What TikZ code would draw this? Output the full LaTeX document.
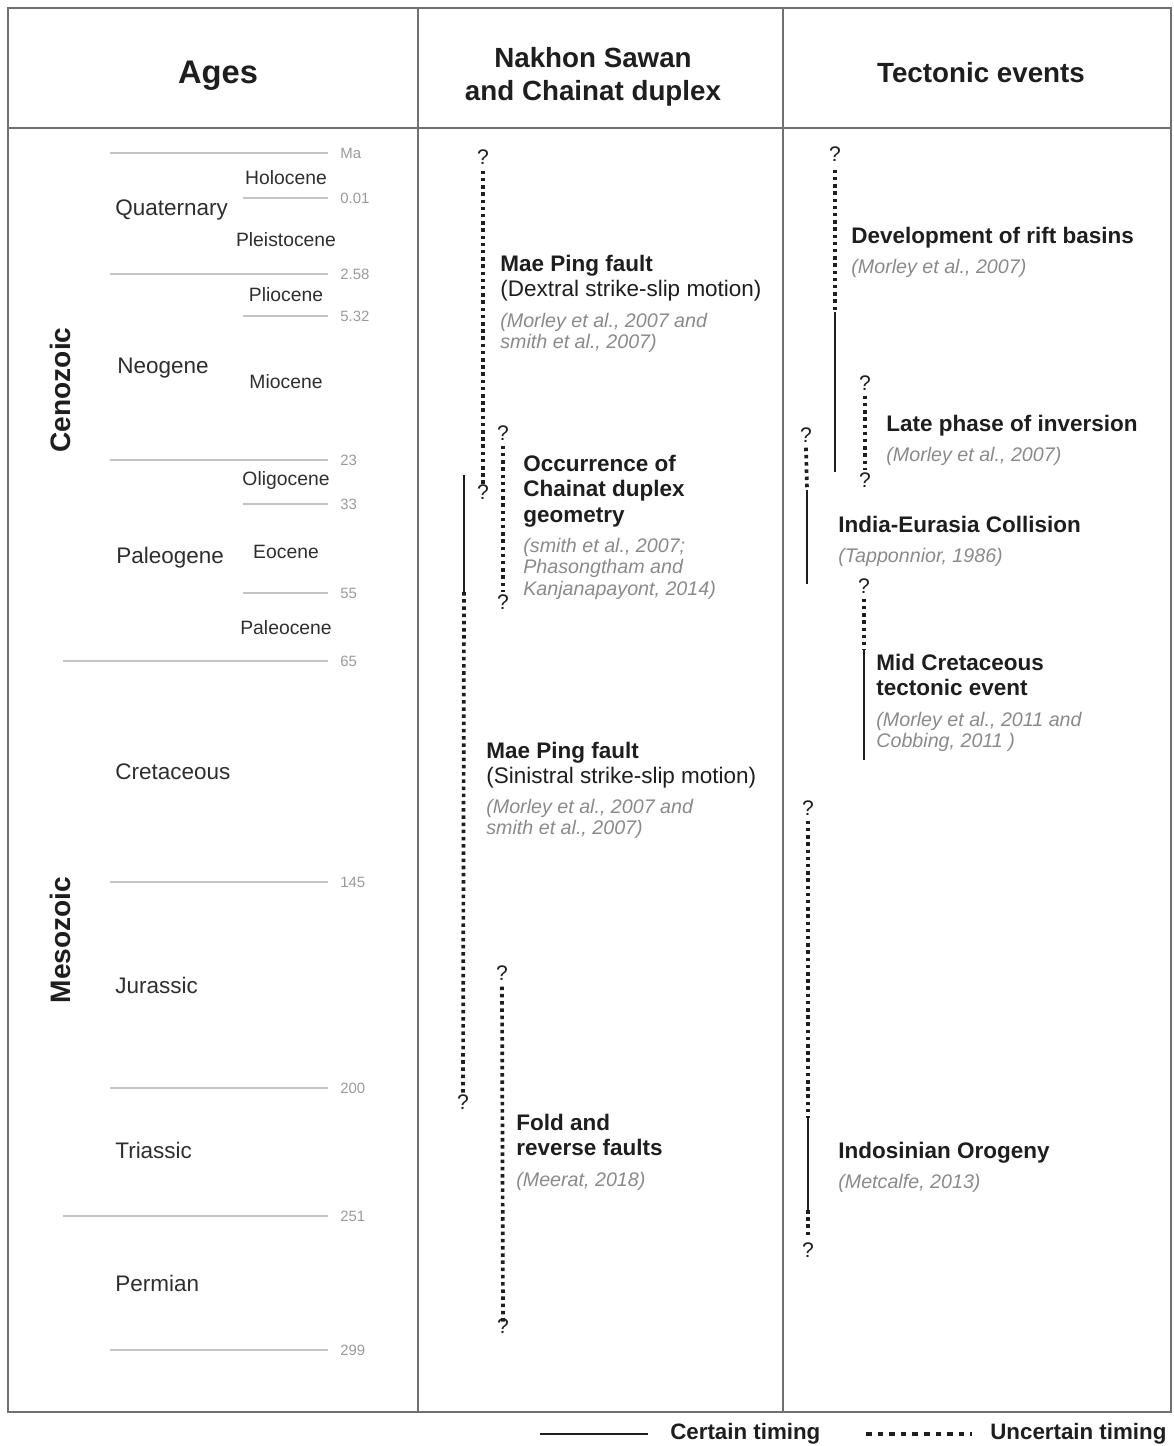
\documentclass[tikz,border=0pt]{standalone}
\usepackage{fontspec}
\setmainfont{Liberation Sans}
\usepackage{tikz}
\usetikzlibrary{positioning}

\definecolor{framegrey}{HTML}{707070}
\definecolor{linegrey}{HTML}{C4C4C4}
\definecolor{numgrey}{HTML}{9A9A9A}
\definecolor{txtgrey}{HTML}{2E2E2E}
\definecolor{citegrey}{HTML}{8A8A8A}
\definecolor{evtblack}{HTML}{1E1E1E}

\begin{document}
\begin{tikzpicture}[
    x=0.02cm, y=-0.02cm,
    frame/.style={draw=framegrey, line width=0.9pt},
    hdr/.style={font=\bfseries\fontsize{15.8}{18.8}\selectfont, align=center, text=evtblack},
    era/.style={font=\bfseries\fontsize{16}{19}\selectfont, rotate=90, text=evtblack},
    period/.style={font=\fontsize{12.8}{15}\selectfont, text=txtgrey, anchor=west, inner sep=0pt},
    epoch/.style={font=\fontsize{11}{13}\selectfont, text=txtgrey, inner sep=0pt},
    ma/.style={font=\fontsize{8.5}{10}\selectfont, text=numgrey, anchor=west, inner sep=0pt},
    ageline/.style={draw=linegrey, line width=0.8pt},
    event/.style={font=\fontsize{12.8}{14.5}\selectfont, text=evtblack, align=left, anchor=north west, inner sep=0pt},
    cite/.style={font=\itshape\fontsize{11.2}{12.3}\selectfont, text=citegrey, align=left, anchor=north west, inner sep=0pt},
    qmark/.style={font=\fontsize{12}{14}\selectfont, text=evtblack, inner sep=0pt},
    certain/.style={draw=evtblack, line width=1.6pt},
    uncertain/.style={draw=evtblack, line width=2.1pt, dash pattern=on 2pt off 2.1pt},
    legend/.style={font=\bfseries\fontsize{12.7}{15}\selectfont, text=evtblack, anchor=west, inner sep=0pt}
]
\useasboundingbox (0,0) rectangle (1173,1446);

% table frame
\draw[frame] (8,8) rectangle (1171,1412);
\draw[frame] (8,128) -- (1171,128);
\draw[frame] (418,8) -- (418,1412);
\draw[frame] (783,8) -- (783,1412);

% headers
\node[hdr, font=\bfseries\fontsize{18.6}{22}\selectfont] (hages) at (218,76) {Ages};
\node[hdr] (hduplex) at (593,77) {Nakhon Sawan\\and Chainat duplex};
\node[hdr] (htect) at (981,73) {Tectonic events};

% age boundaries
\foreach \xa/\yy/\lab/\nm in {110/153/Ma/ma, 243/198/0.01/a1, 110/274/2.58/a2, 243/316/5.32/a3,
    110/460/23/a4, 243/504/33/a5, 243/593/55/a6, 63/661/65/a7,
    110/882/145/a8, 110/1088/200/a9, 63/1216/251/a10, 110/1350/299/a11}
{
    \draw[ageline] (\xa,\yy) -- (328,\yy);
    \node[ma] (t\nm) at (340,\yy) {\lab};
}

% eras
\node[era] (ceno) at (60,390) {Cenozoic};
\node[era] (meso) at (60,940) {Mesozoic};

% periods
\node[period] (quat) at (115,210) {Quaternary};
\node[period] (neog) at (117,368) {Neogene};
\node[period] (paleog) at (116,558) {Paleogene};
\node[period] (cret) at (115,772) {Cretaceous};
\node[period] (jura) at (115,985) {Jurassic};
\node[period] (tria) at (115,1150) {Triassic};
\node[period] (perm) at (115,1283) {Permian};

% epochs
\node[epoch] (holo) at (286,178) {Holocene};
\node[epoch] (pleis) at (286,240) {Pleistocene};
\node[epoch] (plio) at (286,295) {Pliocene};
\node[epoch] (mio) at (286,382) {Miocene};
\node[epoch] (oligo) at (286,480) {Oligocene};
\node[epoch] (eoc) at (286,552) {Eocene};
\node[epoch] (paleoc) at (286,628) {Paleocene};

% Nakhon Sawan and Chainat duplex
\node[qmark] (qdx1) at (483,157) {?};
\node[qmark] (qdx2) at (483,492) {?};
\draw[uncertain] (qdx1.south) ++(0,6) -- ([yshift=-0.06cm]qdx2.north);

\coordinate (sn0) at (464,475);
\coordinate (sn1) at (464,592);
\node[qmark] (qsn) at (463,1102) {?};
\draw[certain] (sn0) -- (sn1);
\draw[uncertain] (sn1) -- (qsn.north);

\node[qmark] (qoc1) at (503,433) {?};
\node[qmark] (qoc2) at (503,602) {?};
\draw[uncertain] ([yshift=-0.1cm]qoc1.south) -- ([yshift=0.05cm]qoc2.north);

\node[qmark] (qfd1) at (502,973) {?};
\node[qmark] (qfd2) at (503,1326) {?};
\draw[uncertain] ([yshift=-0.12cm]qfd1.south) -- ([yshift=-0.12cm]qfd2.north);

\node[event] (mpdx) at (500,254.6) {\textbf{Mae Ping fault}\\(Dextral strike-slip motion)};
\node[cite] (cmpdx) at (500,312.7) {(Morley et al., 2007 and\\smith et al., 2007)};
\node[event] (occ) at (523,454.6) {\textbf{Occurrence of}\\\textbf{Chainat duplex}\\\textbf{geometry}};
\node[cite] (cocc) at (523,537.7) {(smith et al., 2007;\\Phasongtham and\\Kanjanapayont, 2014)};
\node[event] (mpsn) at (486,741.6) {\textbf{Mae Ping fault}\\(Sinistral strike-slip motion)};
\node[cite] (cmpsn) at (486,798.7) {(Morley et al., 2007 and\\smith et al., 2007)};
\node[event] (fold) at (516,1113.6) {\textbf{Fold and}\\\textbf{reverse faults}};
\node[cite] (cfold) at (516,1171.7) {(Meerat, 2018)};

% Tectonic events
\node[qmark] (qrf) at (835,154) {?};
\coordinate (rf1) at (835,312);
\coordinate (rf2) at (835,472);
\draw[uncertain] ([yshift=-0.16cm]qrf.south) -- (rf1);
\draw[certain] (rf1) -- (rf2);

\node[qmark] (qlt1) at (865,383) {?};
\node[qmark] (qlt2) at (865,480) {?};
\draw[uncertain] ([yshift=-0.1cm]qlt1.south) -- ([yshift=0.04cm]qlt2.north);

\node[qmark] (qin) at (806,435) {?};
\coordinate (in1) at (807,490);
\coordinate (in2) at (807,584);
\draw[uncertain] ([yshift=-0.1cm]qin.south) -- (in1);
\draw[certain] (in1) -- (in2);

\node[qmark] (qmc) at (864,586) {?};
\coordinate (mc1) at (864,650);
\coordinate (mc2) at (864,760);
\draw[uncertain] ([yshift=-0.1cm]qmc.south) -- (mc1);
\draw[certain] (mc1) -- (mc2);

\node[qmark] (qid1) at (808,808) {?};
\node[qmark] (qid2) at (808,1250) {?};
\coordinate (id1) at (808,1118);
\coordinate (id2) at (808,1210);
\draw[uncertain] ([yshift=-0.1cm]qid1.south) -- (id1);
\draw[certain] (id1) -- (id2);
\draw[uncertain] (id2) -- ([yshift=0.1cm]qid2.north);

\node[event] (rift) at (851,226.6) {\textbf{Development of rift basins}};
\node[cite] (crift) at (851,258.7) {(Morley et al., 2007)};
\node[event] (late) at (886,414.6) {\textbf{Late phase of inversion}};
\node[cite] (clate) at (886,446.7) {(Morley et al., 2007)};
\node[event] (india) at (838,515.6) {\textbf{India-Eurasia Collision}};
\node[cite] (cindia) at (838,547.7) {(Tapponnior, 1986)};
\node[event] (midc) at (876,653.6) {\textbf{Mid Cretaceous}\\\textbf{tectonic event}};
\node[cite] (cmidc) at (876,711.7) {(Morley et al., 2011 and\\Cobbing, 2011 )};
\node[event] (indo) at (838,1141.6) {\textbf{Indosinian Orogeny}};
\node[cite] (cindo) at (838,1173.7) {(Metcalfe, 2013)};

% legend
\draw[certain] (540,1434) -- (648,1434);
\node[legend] (lgc) at (670,1434) {Certain timing};
\draw[uncertain, line width=1.8pt, dash pattern=on 3.2pt off 3.4pt] (866,1434) -- (972,1434);
\node[legend] (lgu) at (990,1434) {Uncertain timing};
\end{tikzpicture}
\end{document}
